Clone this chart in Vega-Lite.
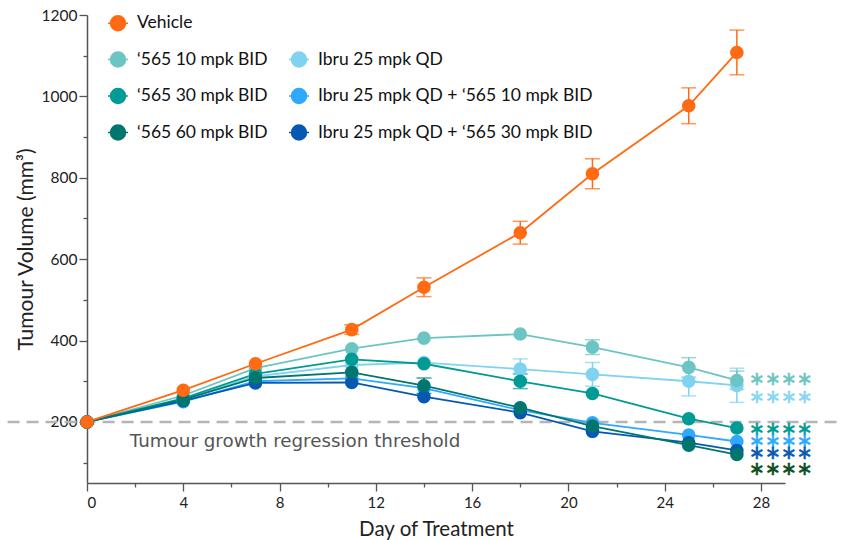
{
  "$schema": "https://vega.github.io/schema/vega-lite/v6.json",
  "width": 698,
  "height": 468,
  "autosize": {"type": "none"},
  "padding": {"left": 87, "top": 15, "right": 64, "bottom": 57},
  "background": "white",
  "config": {"view": {"stroke": null}, "font": "Lato"},
  "datasets": {
    "means": [
      {"g": "Ibru 25 mpk QD", "day": 0, "v": 200},
      {"g": "Ibru 25 mpk QD", "day": 4, "v": 256},
      {"g": "Ibru 25 mpk QD", "day": 7, "v": 312},
      {"g": "Ibru 25 mpk QD", "day": 11, "v": 340},
      {"g": "Ibru 25 mpk QD", "day": 14, "v": 346},
      {"g": "Ibru 25 mpk QD", "day": 18, "v": 330, "lo": 305, "hi": 355},
      {"g": "Ibru 25 mpk QD", "day": 21, "v": 317, "lo": 288, "hi": 346},
      {"g": "Ibru 25 mpk QD", "day": 25, "v": 300, "lo": 264, "hi": 336},
      {"g": "Ibru 25 mpk QD", "day": 27, "v": 290, "lo": 248, "hi": 332},
      {"g": "‘565 10 mpk BID", "day": 0, "v": 200},
      {"g": "‘565 10 mpk BID", "day": 4, "v": 265},
      {"g": "‘565 10 mpk BID", "day": 7, "v": 332},
      {"g": "‘565 10 mpk BID", "day": 11, "v": 380},
      {"g": "‘565 10 mpk BID", "day": 14, "v": 406},
      {"g": "‘565 10 mpk BID", "day": 18, "v": 416},
      {"g": "‘565 10 mpk BID", "day": 21, "v": 384, "lo": 366, "hi": 402},
      {"g": "‘565 10 mpk BID", "day": 25, "v": 334, "lo": 310, "hi": 358},
      {"g": "‘565 10 mpk BID", "day": 27, "v": 302, "lo": 280, "hi": 325},
      {"g": "‘565 30 mpk BID", "day": 0, "v": 200},
      {"g": "‘565 30 mpk BID", "day": 4, "v": 258},
      {"g": "‘565 30 mpk BID", "day": 7, "v": 318},
      {"g": "‘565 30 mpk BID", "day": 11, "v": 354},
      {"g": "‘565 30 mpk BID", "day": 14, "v": 343},
      {"g": "‘565 30 mpk BID", "day": 18, "v": 300, "lo": 282, "hi": 318},
      {"g": "‘565 30 mpk BID", "day": 21, "v": 270},
      {"g": "‘565 30 mpk BID", "day": 25, "v": 208},
      {"g": "‘565 30 mpk BID", "day": 27, "v": 185},
      {"g": "Ibru 25 mpk QD + ‘565 10 mpk BID", "day": 0, "v": 200},
      {"g": "Ibru 25 mpk QD + ‘565 10 mpk BID", "day": 4, "v": 250},
      {"g": "Ibru 25 mpk QD + ‘565 10 mpk BID", "day": 7, "v": 300},
      {"g": "Ibru 25 mpk QD + ‘565 10 mpk BID", "day": 11, "v": 307},
      {"g": "Ibru 25 mpk QD + ‘565 10 mpk BID", "day": 14, "v": 283},
      {"g": "Ibru 25 mpk QD + ‘565 10 mpk BID", "day": 18, "v": 229},
      {"g": "Ibru 25 mpk QD + ‘565 10 mpk BID", "day": 21, "v": 198},
      {"g": "Ibru 25 mpk QD + ‘565 10 mpk BID", "day": 25, "v": 168},
      {"g": "Ibru 25 mpk QD + ‘565 10 mpk BID", "day": 27, "v": 152},
      {"g": "Ibru 25 mpk QD + ‘565 30 mpk BID", "day": 0, "v": 200},
      {"g": "Ibru 25 mpk QD + ‘565 30 mpk BID", "day": 4, "v": 252},
      {"g": "Ibru 25 mpk QD + ‘565 30 mpk BID", "day": 7, "v": 296},
      {"g": "Ibru 25 mpk QD + ‘565 30 mpk BID", "day": 11, "v": 297},
      {"g": "Ibru 25 mpk QD + ‘565 30 mpk BID", "day": 14, "v": 262},
      {"g": "Ibru 25 mpk QD + ‘565 30 mpk BID", "day": 18, "v": 223},
      {"g": "Ibru 25 mpk QD + ‘565 30 mpk BID", "day": 21, "v": 177},
      {"g": "Ibru 25 mpk QD + ‘565 30 mpk BID", "day": 25, "v": 149},
      {"g": "Ibru 25 mpk QD + ‘565 30 mpk BID", "day": 27, "v": 130},
      {"g": "‘565 60 mpk BID", "day": 0, "v": 200},
      {"g": "‘565 60 mpk BID", "day": 4, "v": 255},
      {"g": "‘565 60 mpk BID", "day": 7, "v": 308},
      {"g": "‘565 60 mpk BID", "day": 11, "v": 322},
      {"g": "‘565 60 mpk BID", "day": 14, "v": 289, "lo": 270, "hi": 308},
      {"g": "‘565 60 mpk BID", "day": 18, "v": 235},
      {"g": "‘565 60 mpk BID", "day": 21, "v": 190},
      {"g": "‘565 60 mpk BID", "day": 25, "v": 143},
      {"g": "‘565 60 mpk BID", "day": 27, "v": 120},
      {"g": "Vehicle", "day": 0, "v": 200},
      {"g": "Vehicle", "day": 4, "v": 278},
      {"g": "Vehicle", "day": 7, "v": 343},
      {"g": "Vehicle", "day": 11, "v": 427, "lo": 415, "hi": 439},
      {"g": "Vehicle", "day": 14, "v": 531, "lo": 508, "hi": 554},
      {"g": "Vehicle", "day": 18, "v": 665, "lo": 637, "hi": 693},
      {"g": "Vehicle", "day": 21, "v": 810, "lo": 773, "hi": 847},
      {"g": "Vehicle", "day": 25, "v": 977, "lo": 933, "hi": 1021},
      {"g": "Vehicle", "day": 27, "v": 1108, "lo": 1053, "hi": 1163}
    ],
    "stars": [
      {"sx": 28.83, "sy": 305, "t": "∗∗∗∗", "c": "#6cc5c2"},
      {"sx": 28.83, "sy": 262, "t": "∗∗∗∗", "c": "#88d6f2"},
      {"sx": 28.83, "sy": 182, "t": "∗∗∗∗", "c": "#009b95"},
      {"sx": 28.83, "sy": 153, "t": "∗∗∗∗", "c": "#2fa9ff"},
      {"sx": 28.83, "sy": 124, "t": "∗∗∗∗", "c": "#0559b3"},
      {"sx": 28.83, "sy": 84, "t": "∗∗∗∗", "c": "#0b4d1f"}
    ],
    "ref": [
      {"y": 200, "x0": -3.3, "x1": 31.2, "label": "Tumour growth regression threshold", "lx": 1.78, "ly": 150}
    ]
  },
  "resolve": {"axis": {"x": "independent", "y": "independent"}},
  "layer": [
    {
      "data": {"name": "ref"},
      "mark": {"type": "rule", "strokeDash": [12, 7], "color": "#b5b5b5", "strokeWidth": 2.5},
      "encoding": {
        "x": {"field": "x0", "type": "quantitative", "scale": {"domain": [0, 29], "nice": false, "zero": false},
          "axis": {"values": [2, 6, 10, 14, 18, 22, 26], "labels": false, "domain": false, "grid": false, "tickSize": 4, "tickWidth": 1.3, "tickColor": "#555", "title": null, "orient": "bottom"}},
        "x2": {"field": "x1"},
        "y": {"field": "y", "type": "quantitative", "scale": {"domain": [50, 1200], "nice": false, "zero": false},
          "axis": {"values": [100, 300, 500, 700, 900, 1100], "labels": false, "domain": false, "grid": false, "tickSize": 4, "tickWidth": 1.3, "tickColor": "#555", "title": null, "orient": "left"}}
      }
    },
    {
      "data": {"name": "means"},
      "mark": {"type": "line", "strokeWidth": 1.8},
      "encoding": {
        "x": {"field": "day", "type": "quantitative", "scale": {"domain": [0, 29], "nice": false, "zero": false},
          "axis": {"values": [0, 4, 8, 12, 16, 20, 24, 28], "grid": false, "tickSize": 8, "tickWidth": 1.3, "tickColor": "#555", "domainColor": "#555", "domainWidth": 1.5, "labelFontSize": 15, "labelColor": "#222", "labelPadding": 4, "labelFont": "Lato", "title": "Day of Treatment", "titleFontSize": 20.5, "titleFontWeight": "normal", "titleColor": "#222", "titleFont": "Lato", "titlePadding": 9, "orient": "bottom"}},
        "y": {"field": "v", "type": "quantitative", "scale": {"domain": [50, 1200], "nice": false, "zero": false},
          "axis": {"values": [200, 400, 600, 800, 1000, 1200], "format": "d", "grid": false, "tickSize": 8, "tickWidth": 1.3, "tickColor": "#555", "domainColor": "#555", "domainWidth": 1.5, "labelFontSize": 15.5, "labelColor": "#222", "labelPadding": 2, "labelFont": "Lato", "title": "Tumour Volume (mm³)", "titleFontSize": 21, "titleFontWeight": "normal", "titleColor": "#222", "titleFont": "Lato", "titlePadding": 5, "orient": "left"}},
        "color": {"field": "g", "type": "nominal",
          "scale": {
            "domain": ["Vehicle", "‘565 10 mpk BID", "‘565 30 mpk BID", "‘565 60 mpk BID", "blank", "Ibru 25 mpk QD", "Ibru 25 mpk QD + ‘565 10 mpk BID", "Ibru 25 mpk QD + ‘565 30 mpk BID"],
            "range": ["#ff6a13", "#6cc5c2", "#009b95", "#00766f", "rgba(0,0,0,0)", "#80d3f0", "#2fa9ff", "#0559b3"]
          },
          "legend": {
            "orient": "none", "legendX": 20, "legendY": -3, "columns": 2, "title": null,
            "symbolType": "M-1,0L-0.75,0M0.75,0L1,0M0.75,0A0.75,0.75,0,1,1,-0.75,0A0.75,0.75,0,1,1,0.75,0Z",
            "symbolSize": 400, "symbolStrokeWidth": 1.5, "symbolOpacity": 1,
            "labelFontSize": 17.5, "labelColor": "#111", "labelFont": "Lato", "labelOffset": 8, "labelLimit": 400,
            "rowPadding": 14.5, "columnPadding": 18, "padding": 0,
            "labelExpr": "datum.label == 'blank' ? '' : datum.label",
            "encode": {"symbols": {"update": {"fill": {"scale": "color", "field": "value"}, "stroke": {"scale": "color", "field": "value"}, "opacity": {"value": 1}, "fillOpacity": {"value": 1}}}}
          }
        }
      }
    },
    {
      "data": {"name": "means"},
      "transform": [{"filter": "isValid(datum.lo)"}],
      "mark": {"type": "rule", "strokeWidth": 1.5},
      "encoding": {
        "x": {"field": "day", "type": "quantitative", "axis": null},
        "y": {"field": "lo", "type": "quantitative", "axis": null},
        "y2": {"field": "hi"},
        "color": {"field": "g", "type": "nominal"}
      }
    },
    {
      "data": {"name": "means"},
      "transform": [{"filter": "isValid(datum.lo)"}],
      "mark": {"type": "tick", "orient": "horizontal", "size": 15, "thickness": 1.5},
      "encoding": {
        "x": {"field": "day", "type": "quantitative", "axis": null},
        "y": {"field": "lo", "type": "quantitative", "axis": null},
        "color": {"field": "g", "type": "nominal"}
      }
    },
    {
      "data": {"name": "means"},
      "transform": [{"filter": "isValid(datum.hi)"}],
      "mark": {"type": "tick", "orient": "horizontal", "size": 15, "thickness": 1.5},
      "encoding": {
        "x": {"field": "day", "type": "quantitative", "axis": null},
        "y": {"field": "hi", "type": "quantitative", "axis": null},
        "color": {"field": "g", "type": "nominal"}
      }
    },
    {
      "data": {"name": "means"},
      "mark": {"type": "point", "filled": true, "shape": "circle", "size": 185, "opacity": 1},
      "encoding": {
        "x": {"field": "day", "type": "quantitative", "axis": null},
        "y": {"field": "v", "type": "quantitative", "axis": null},
        "color": {"field": "g", "type": "nominal"}
      }
    },
    {
      "data": {"name": "stars"},
      "mark": {"type": "text", "font": "DejaVu Sans", "fontSize": 19, "strokeWidth": 0.6, "align": "center", "baseline": "middle"},
      "encoding": {
        "x": {"field": "sx", "type": "quantitative", "axis": null},
        "y": {"field": "sy", "type": "quantitative", "axis": null},
        "text": {"field": "t"},
        "color": {"field": "c", "type": "nominal", "scale": null},
        "stroke": {"field": "c", "type": "nominal", "scale": null}
      }
    },
    {
      "data": {"name": "ref"},
      "mark": {"type": "text", "font": "DejaVu Sans", "fontSize": 18.3, "color": "#555", "align": "left", "baseline": "middle"},
      "encoding": {
        "x": {"field": "lx", "type": "quantitative", "axis": null},
        "y": {"field": "ly", "type": "quantitative", "axis": null},
        "text": {"field": "label"}
      }
    }
  ]
}
